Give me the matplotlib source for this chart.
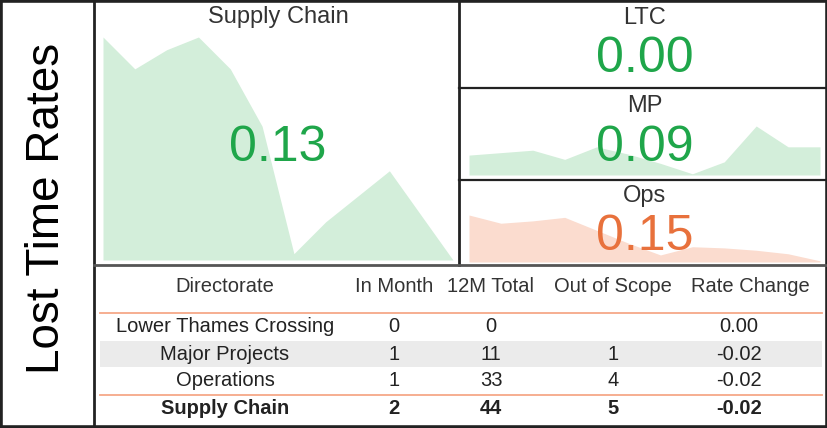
import matplotlib.pyplot as plt
from matplotlib.patches import Rectangle

plt.rcParams['font.family'] = ['Liberation Sans', 'DejaVu Sans']

# Monthly lost time rate trends (12 months)
sc_trend = [0.35, 0.30, 0.33, 0.35, 0.30, 0.21, 0.01, 0.06, 0.10, 0.14, 0.07, 0.00]
mp_trend = [0.065, 0.073, 0.081, 0.051, 0.092, 0.068, 0.038, 0.004, 0.043, 0.16, 0.092, 0.092]
ops_trend = [0.40, 0.33, 0.35, 0.38, 0.27, 0.16, 0.06, 0.13, 0.12, 0.10, 0.07, 0.01]

# Headline rates
kpi_labels = ['Supply Chain', 'LTC', 'MP', 'Ops']
kpi_values = [0.13, 0.00, 0.09, 0.15]

# Summary table
col_headers = ['Directorate', 'In Month', '12M Total', 'Out of Scope', 'Rate Change']
directorates = ['Lower Thames Crossing', 'Major Projects', 'Operations', 'Supply Chain']
in_month = [0, 1, 1, 2]
total_12m = [0, 11, 33, 44]
out_of_scope = ['', 1, 4, 5]
rate_change = [0.00, -0.02, -0.02, -0.02]

GREEN = '#1fa64a'
GREEN_FILL = '#d3eeda'
ORANGE = '#e8713c'
ORANGE_FILL = '#fbdccf'
W, H = 828, 428

fig = plt.figure(figsize=(W / 100, H / 100), dpi=100)


def px_axes(x0, y0, x1, y1):
    # axes placed by pixel box (top-left origin)
    ax = fig.add_axes([x0 / W, (H - y1) / H, (x1 - x0) / W, (y1 - y0) / H])
    ax.axis('off')
    ax.patch.set_alpha(0)
    return ax


def sparkline(box, values, color):
    ax = px_axes(*box)
    xs = range(len(values))
    ax.fill_between(xs, values, 0, color=color, lw=0)
    ax.set_xlim(0, len(values) - 1)
    ax.set_ylim(0, max(values))
    return ax


# table band sits under everything
band = fig.add_axes([0, 0, 1, 1])
band.set_xlim(0, W)
band.set_ylim(H, 0)
band.axis('off')
band.add_patch(Rectangle((100, 341), 722, 26, color='#ebebeb', lw=0))

# sparklines
sparkline((103, 37, 453, 260), sc_trend, GREEN_FILL)
sparkline((469, 126, 820, 175), mp_trend, GREEN_FILL)
sparkline((469, 215, 820, 262), ops_trend, ORANGE_FILL)

# overlay axes in pixel coords, for frames and text
bg = fig.add_axes([0, 0, 1, 1])
bg.set_xlim(0, W)
bg.set_ylim(H, 0)
bg.axis('off')
bg.patch.set_alpha(0)
bg.set_zorder(10)

for y in [313, 395]:
    bg.plot([100, 822], [y, y], color='#f6a888', lw=1.3)

# panel borders
dark = '#222222'
bg.plot([94, 94], [0, H], color=dark, lw=2)
bg.plot([459, 459], [0, 265], color=dark, lw=2)
bg.plot([94, W], [265, 265], color='#555555', lw=2)
bg.plot([459, W], [88, 88], color=dark, lw=1.6)
bg.plot([459, W], [180, 180], color=dark, lw=1.6)
bg.add_patch(Rectangle((1, 1), W - 2, H - 2, fill=False, ec=dark, lw=2.6))

# titles and headline numbers
bg.text(47, 208, 'Lost Time Rates', rotation=90, ha='center', va='center',
        fontsize=33, color='black')

title_pos = [(278, 17), (645, 18), (645, 106), (645, 196)]
value_pos = [(278, 148), (645, 59), (645, 148), (645, 237)]
value_colors = [GREEN, GREEN, GREEN, ORANGE]
for lab, val, tp, vp, c in zip(kpi_labels, kpi_values, title_pos, value_pos, value_colors):
    bg.text(tp[0], tp[1], lab, ha='center', va='center', fontsize=17, color='#333333')
    bg.text(vp[0], vp[1], f'{val:.2f}', ha='center', va='center', fontsize=36, color=c)

# table text
col_x = [225, 394, 491, 613, 750]
for x, h in zip(col_x, col_headers):
    bg.text(x, 287, h, ha='center', va='center', fontsize=14.5, color='#333333')

row_y = [327, 354, 381, 408]
for i, y in enumerate(row_y):
    w = 'bold' if i == len(row_y) - 1 else 'normal'
    cells = [directorates[i], str(in_month[i]), str(total_12m[i]),
             str(out_of_scope[i]), f'{rate_change[i]:.2f}']
    xs = col_x[:4] + [739]
    for x, t in zip(xs, cells):
        bg.text(x, y, t, ha='center', va='center', fontsize=14.5, color='#222222', fontweight=w)

fig.savefig('out.png', dpi=100)
